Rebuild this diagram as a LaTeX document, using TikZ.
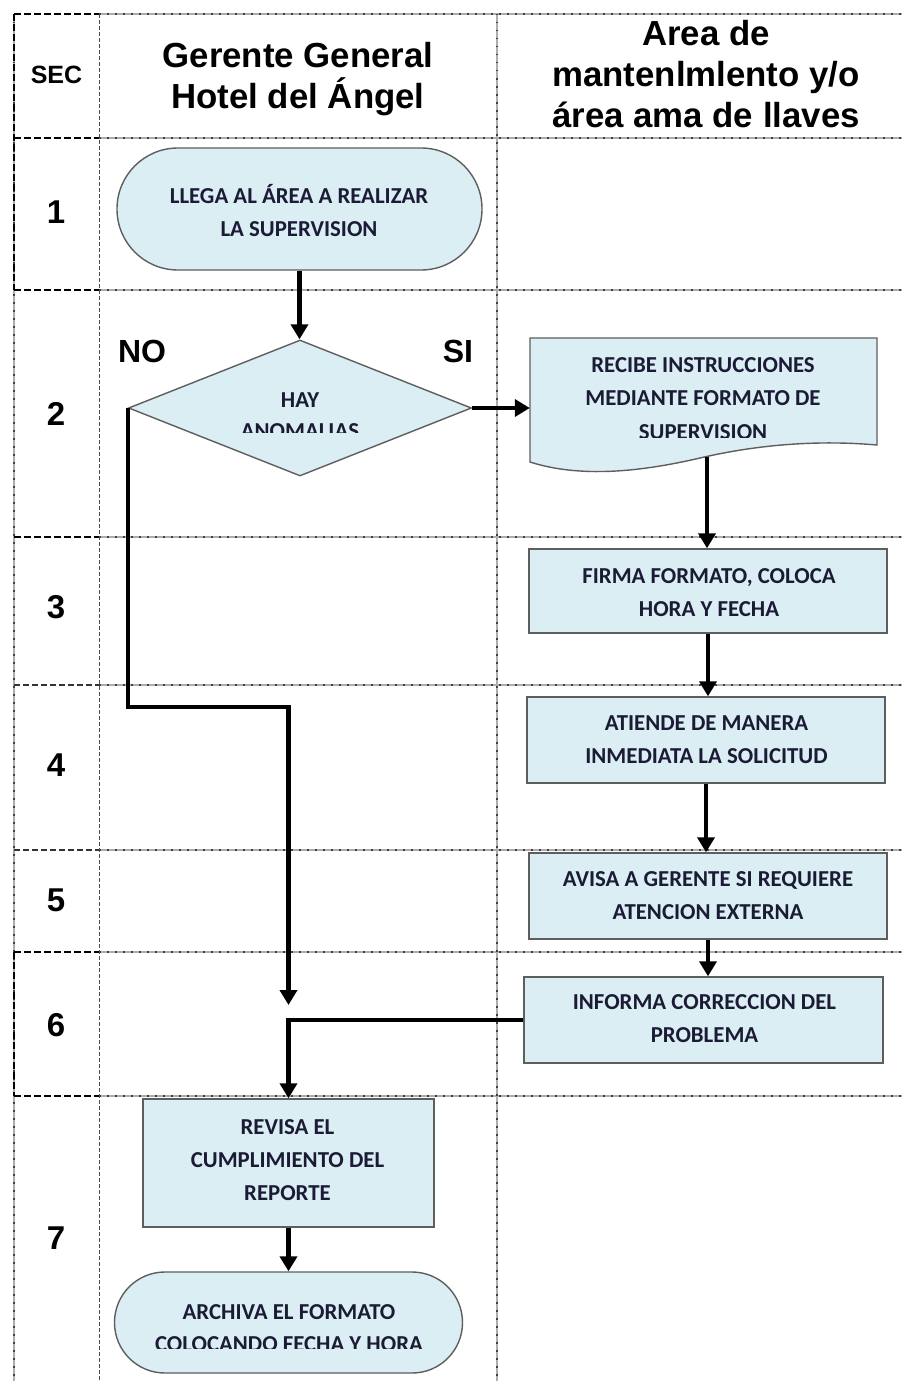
\documentclass[tikz,border=0pt]{standalone}
\usepackage{fontspec}
\setmainfont{Liberation Sans}
\newfontfamily\boxfont{Carlito}
\usetikzlibrary{shapes.geometric, arrows.meta}

\definecolor{boxfill}{HTML}{DBEEF4}
\definecolor{boxline}{HTML}{5E5E5E}
\definecolor{boxtext}{HTML}{1B1B36}

\tikzset{
  lanebase/.style={draw=black!32, line width=1.8pt},
  lanedots/.style={draw=black!75, line width=1.3pt, dash pattern=on 1.5pt off 6.5pt},
  secthick/.style={draw=black, line width=2.6pt, dash pattern=on 7pt off 3pt},
  secthin/.style={draw=black!80, line width=1.4pt, dash pattern=on 6pt off 3pt},
  secside/.style={draw=black!70, line width=1pt, dash pattern=on 4pt off 2pt},
  procbox/.style={draw=boxline, fill=boxfill, line width=1.4pt, inner sep=0pt},
  steptext/.style={font=\boxfont\bfseries\fontsize{22.8}{33}\selectfont, text=boxtext, align=center, inner sep=0pt},
  headtext/.style={font=\bfseries\fontsize{34.8}{41}\selectfont, align=center, inner sep=0pt},
  seqnum/.style={font=\bfseries\fontsize{33}{33}\selectfont, inner sep=0pt},
  branch/.style={font=\bfseries\fontsize{32}{32}\selectfont, inner sep=0pt},
  flow/.style={line width=4.2pt, -{Triangle[width=17pt,length=15pt]}},
}

\begin{document}
\begin{tikzpicture}[x=1pt, y=-1pt]
  \useasboundingbox (0,0) rectangle (902,1381);
  \fill[white] (0,0) rectangle (902,1381);

  % ---- lane grid ----
  \foreach \yy in {14,138,290,537,685,850,952,1096} {
    \draw[lanebase] (99,\yy) -- (902,\yy);
    \draw[lanedots] (99,\yy) -- (902,\yy);
  }
  \draw[lanebase] (497,14) -- (497,1381);
  \draw[lanedots] (497,14) -- (497,1381);
  \draw[lanebase] (14,14) -- (14,1381);
  \draw[lanedots] (14,14) -- (14,1381);
  \draw[secside] (99,14) -- (99,1381);
  % sequence column borders
  \foreach \yy in {14,138,290,537,952,1096} {
    \draw[secthick] (14,\yy) -- (99,\yy);
  }
  \foreach \yy in {685,850} {
    \draw[secthin] (14,\yy) -- (99,\yy);
  }
  \draw[secthick] (14,14) -- (14,290);
  \draw[secthick] (14,952) -- (14,1096);

  % ---- headers ----
  \node[font=\bfseries\fontsize{25}{25}\selectfont, inner sep=0pt] (sec) at (56.5,75) {SEC};
  \node[headtext] (lane1) at (298,79) {Gerente General\\Hotel del Ángel};
  \node[headtext] (lane2) at (706,74) {Area de\\mantenlmlento y/o\\área ama de llaves};

  % ---- sequence numbers ----
  \node[seqnum] (n1) at (56,212.5) {1};
  \node[seqnum] (n2) at (56,413.5) {2};
  \node[seqnum] (n3) at (56,607) {3};
  \node[seqnum] (n4) at (56,765) {4};
  \node[seqnum] (n5) at (56,900) {5};
  \node[seqnum] (n6) at (56,1025) {6};
  \node[seqnum] (n7) at (56,1238.5) {7};

  % ---- shapes ----
  \node[procbox, rounded corners=60.9pt, minimum width=365pt, minimum height=122pt] (llega) at (299.5,209) {};
  \node[steptext] (llegatext) at (299,211) {LLEGA AL ÁREA A REALIZAR\\LA SUPERVISION};

  \node[procbox, diamond, minimum width=343pt, minimum height=136pt] (hay) at (300,408) {};
  \begin{scope}
    \clip (128,340) rectangle (471,432);
    \node[steptext, font=\boxfont\bfseries\fontsize{22.8}{31}\selectfont] (haytext) at (300,415.5) {HAY\\ANOMALIAS};
  \end{scope}
  \node[branch] (no) at (142,351) {NO};
  \node[branch] (si) at (458,351) {SI};

  % document-shaped step
  \path[procbox] (530,338) -- (877,338) -- (877,445)
    .. controls (820,440) and (760,444) .. (700,458)
    .. controls (640,472) and (580,478) .. (530,462) -- cycle;
  \node[inner sep=0pt, minimum width=347pt, minimum height=134pt] (doc) at (703.5,405) {};
  \coordinate (docfoot) at (707,457);
  \begin{scope}
    \clip (530,338) rectangle (877,437);
    \node[steptext, font=\boxfont\bfseries\fontsize{22.8}{33.5}\selectfont] (doctext) at (703,398.5) {RECIBE INSTRUCCIONES\\MEDIANTE FORMATO DE\\SUPERVISION};
  \end{scope}

  \node[procbox, minimum width=358pt, minimum height=84pt] (firma) at (708,591) {};
  \node[steptext] (firmatext) at (709,592.5) {FIRMA FORMATO, COLOCA\\HORA Y FECHA};

  \node[procbox, minimum width=358pt, minimum height=86pt] (atiende) at (706,740) {};
  \node[steptext] (atiendetext) at (706.5,739.5) {ATIENDE DE MANERA\\INMEDIATA LA SOLICITUD};

  \node[procbox, minimum width=358pt, minimum height=86pt] (avisa) at (708,896) {};
  \node[steptext] (avisatext) at (708,895.5) {AVISA A GERENTE SI REQUIERE\\ATENCION EXTERNA};

  \node[procbox, minimum width=359pt, minimum height=86pt] (informa) at (703.5,1020) {};
  \node[steptext] (informatext) at (704.5,1019) {INFORMA CORRECCION DEL\\PROBLEMA};

  \node[procbox, minimum width=291pt, minimum height=128pt] (revisa) at (288.5,1163) {};
  \node[steptext] (revisatext) at (287.5,1160) {REVISA EL\\CUMPLIMIENTO DEL\\REPORTE};

  \node[procbox, rounded corners=50.4pt, minimum width=348pt, minimum height=101pt] (archiva) at (288.5,1322.5) {};
  \begin{scope}
    \clip (115,1272) rectangle (463,1348);
    \node[steptext, font=\boxfont\bfseries\fontsize{22.8}{32}\selectfont] (archivatext) at (289,1328) {ARCHIVA EL FORMATO\\COLOCANDO FECHA Y HORA};
  \end{scope}

  % ---- connectors ----
  \draw[flow] (llega.south) -- (llega.south |- hay.north);
  \draw[flow] (hay.east) -- (hay.east -| doc.west);
  \draw[flow] (docfoot) -- (docfoot |- firma.north);
  \draw[flow] (firma.south) -- (firma.south |- atiende.north);
  \draw[flow] (atiende.south) -- (atiende.south |- avisa.north);
  \draw[flow] (avisa.south) -- (avisa.south |- informa.north);
  \coordinate (nobend) at (288.5,707);
  \coordinate (noend) at (288.5,1005);
  \draw[flow] (hay.west) |- (nobend) -- (noend);
  \draw[flow] (informa.west) -| (revisa.north);
  \draw[flow] (revisa.south) -- (archiva.north);
\end{tikzpicture}
\end{document}
